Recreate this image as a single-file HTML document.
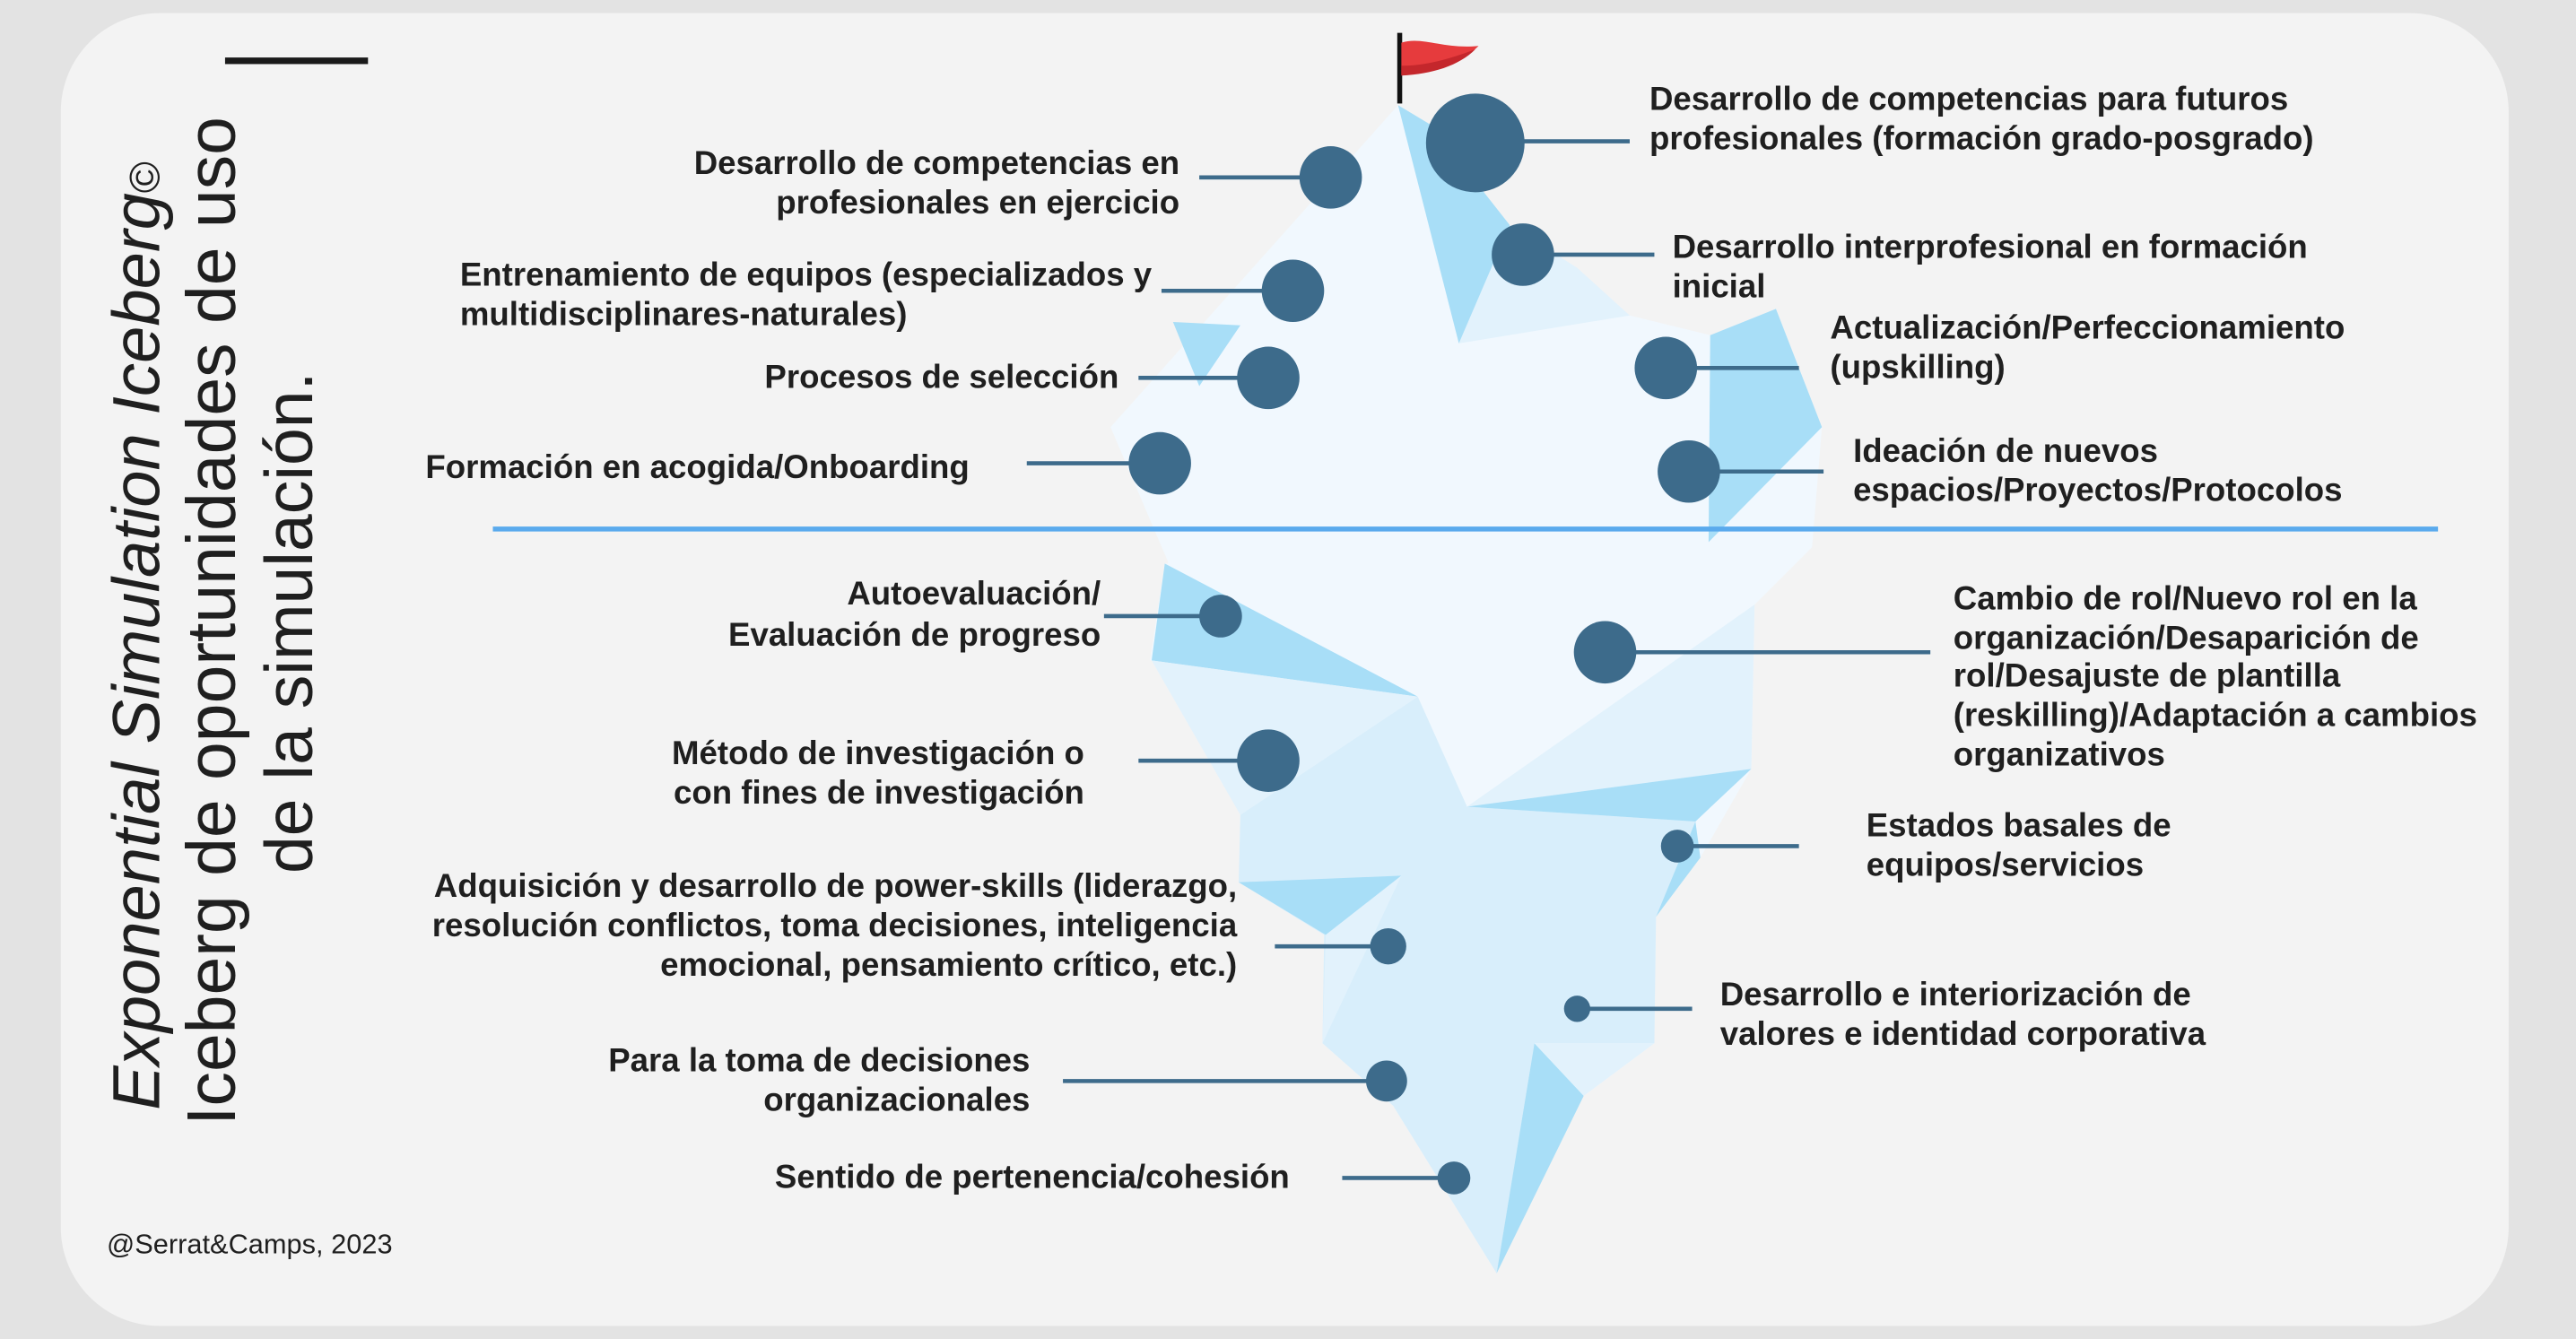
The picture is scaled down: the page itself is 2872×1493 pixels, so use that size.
<!DOCTYPE html>
<html><head><meta charset="utf-8"><style>
html,body{margin:0;padding:0;background:#e3e3e3;}
svg{display:block}
.l{font-family:"Liberation Sans",sans-serif;font-weight:bold;font-size:20px;fill:#1f1f1f}
.r{text-anchor:end}
</style></head><body>
<svg width="2872" height="1493" viewBox="0 0 1568 815" preserveAspectRatio="none" xmlns="http://www.w3.org/2000/svg">
<rect x="0" y="0" width="1568" height="815" fill="#e3e3e3"/>
<rect x="37" y="8" width="1490" height="799" rx="60" fill="#f3f3f3"/>
<rect x="137" y="35" width="87" height="4" fill="#1a1a1a"/>
<polygon points="851,64 676,260 711,342 701,402 755,495 754,537 806,569 805,635 848,673 911,775 964,667 1007,635 1008,558 1035,522 1066,468 1068,368 1103,333 1109,260 1081,188 1041,204 992,192 919,137 871,76" fill="#f1f8fe"/>
<polygon points="919,137 960,163 992,192 888,209" fill="#e2f2fc"/>
<polygon points="851,64 871,76 919,137 888,209" fill="#a8def7"/>
<polygon points="714,196 755,198 730,235" fill="#a8def7"/>
<polygon points="1041,204 1081,188 1109,260 1040,330" fill="#a8def7"/>
<polygon points="1103,333 1068,368 893,491 863,424 700,402 709,343" fill="#f1f8fe"/>
<polygon points="1068,368 1066,468 893,491" fill="#e2f2fc"/>
<polygon points="709,343 863,424 701,402" fill="#a8def7"/>
<polygon points="701,402 863,424 755,496" fill="#e2f2fc"/>
<polygon points="755,496 863,424 893,491 1032,500 1008,558 1007,635 934,635 911,775 848,673 805,635 806,569 754,537" fill="#d8eefb"/>
<polygon points="893,491 1066,468 1032,500" fill="#a8def7"/>
<polygon points="1032,500 1035,522 1008,558" fill="#a8def7"/>
<polygon points="754,537 853,533 807,569" fill="#a8def7"/>
<polygon points="853,533 807,569 805,635" fill="#e2f2fc"/>
<polygon points="934,635 964,667 911,775" fill="#a8def7"/>
<polygon points="934,635 1007,635 964,667" fill="#e2f2fc"/>
<rect x="850.5" y="20" width="3" height="43" fill="#111"/>
<path d="M853,26 C866,22 878,30 900,28 C890,38 872,44 853,46 Z" fill="#e63b3d"/>
<path d="M853,40 C868,40 882,36 898,30 C888,40 872,45 853,46 Z" fill="#c4272c"/>
<rect x="300" y="320.5" width="1184" height="3" fill="#5aaaed"/>
<g stroke="#3d6b8b" stroke-width="2.5">
<line x1="898" y1="86" x2="992" y2="86"/>
<line x1="730" y1="108" x2="810" y2="108"/>
<line x1="927" y1="155" x2="1007" y2="155"/>
<line x1="707" y1="177" x2="787" y2="177"/>
<line x1="693" y1="230" x2="772" y2="230"/>
<line x1="1014" y1="224" x2="1095" y2="224"/>
<line x1="625" y1="282" x2="706" y2="282"/>
<line x1="1028" y1="287" x2="1110" y2="287"/>
<line x1="672" y1="375" x2="743" y2="375"/>
<line x1="977" y1="397" x2="1175" y2="397"/>
<line x1="693" y1="463" x2="772" y2="463"/>
<line x1="1021" y1="515" x2="1095" y2="515"/>
<line x1="776" y1="576" x2="845" y2="576"/>
<line x1="960" y1="614" x2="1030" y2="614"/>
<line x1="647" y1="658" x2="844" y2="658"/>
<line x1="817" y1="717" x2="885" y2="717"/>
</g>
<g fill="#3d6b8b">
<circle cx="898" cy="87" r="30"/>
<circle cx="810" cy="108" r="19"/>
<circle cx="927" cy="155" r="19"/>
<circle cx="787" cy="177" r="19"/>
<circle cx="772" cy="230" r="19"/>
<circle cx="1014" cy="224" r="19"/>
<circle cx="706" cy="282" r="19"/>
<circle cx="1028" cy="287" r="19"/>
<circle cx="743" cy="375" r="13"/>
<circle cx="977" cy="397" r="19"/>
<circle cx="772" cy="463" r="19"/>
<circle cx="1021" cy="515" r="10"/>
<circle cx="845" cy="576" r="11"/>
<circle cx="960" cy="614" r="8"/>
<circle cx="844" cy="658" r="12.5"/>
<circle cx="885" cy="717" r="10"/>
</g>
<g font-family="'Liberation Sans',sans-serif" fill="#1f1f1f" text-anchor="middle">
<text transform="translate(97,387) rotate(-90)" font-style="italic" font-size="40.5">Exponential Simulation Iceberg<tspan font-size="26" font-style="normal">©</tspan></text>
<text transform="translate(143,378) rotate(-90)" font-size="42">Iceberg de oportunidades de uso</text>
<text transform="translate(190,379) rotate(-90)" font-size="41">de la simulación.</text>
</g>
<text x="65" y="763" font-family="'Liberation Sans',sans-serif" font-size="16.8" fill="#1f1f1f">@Serrat&amp;Camps, 2023</text>
<text class="l" x="1004" y="67">Desarrollo de competencias para futuros</text>
<text class="l" x="1004" y="91">profesionales (formación grado-posgrado)</text>
<text class="l" x="1018" y="157">Desarrollo interprofesional en formación</text>
<text class="l" x="1018" y="181">inicial</text>
<text class="l" x="1114" y="206">Actualización/Perfeccionamiento</text>
<text class="l" x="1114" y="230">(upskilling)</text>
<text class="l" x="1128" y="281">Ideación de nuevos</text>
<text class="l" x="1128" y="305">espacios/Proyectos/Protocolos</text>
<text class="l" x="1189" y="371">Cambio de rol/Nuevo rol en la</text>
<text class="l" x="1189" y="395">organización/Desaparición de</text>
<text class="l" x="1189" y="418">rol/Desajuste de plantilla</text>
<text class="l" x="1189" y="442">(reskilling)/Adaptación a cambios</text>
<text class="l" x="1189" y="466">organizativos</text>
<text class="l" x="1136" y="509">Estados basales de</text>
<text class="l" x="1136" y="533">equipos/servicios</text>
<text class="l" x="1047" y="612">Desarrollo e interiorización de</text>
<text class="l" x="1047" y="636">valores e identidad corporativa</text>
<text class="l r" x="718" y="106">Desarrollo de competencias en</text>
<text class="l r" x="718" y="130">profesionales en ejercicio</text>
<text class="l" x="280" y="174">Entrenamiento de equipos (especializados y</text>
<text class="l" x="280" y="198">multidisciplinares-naturales)</text>
<text class="l r" x="681" y="236">Procesos de selección</text>
<text class="l" x="259" y="291">Formación en acogida/Onboarding</text>
<text class="l r" x="670" y="368">Autoevaluación/</text>
<text class="l r" x="670" y="393">Evaluación de progreso</text>
<text class="l r" x="660" y="465">Método de investigación o</text>
<text class="l r" x="660" y="489">con fines de investigación</text>
<text class="l r" x="753" y="546">Adquisición y desarrollo de power-skills (liderazgo,</text>
<text class="l r" x="753" y="570">resolución conflictos, toma decisiones, inteligencia</text>
<text class="l r" x="753" y="594">emocional, pensamiento crítico, etc.)</text>
<text class="l r" x="627" y="652">Para la toma de decisiones</text>
<text class="l r" x="627" y="676">organizacionales</text>
<text class="l r" x="785" y="723">Sentido de pertenencia/cohesión</text>
</svg>
</body></html>
